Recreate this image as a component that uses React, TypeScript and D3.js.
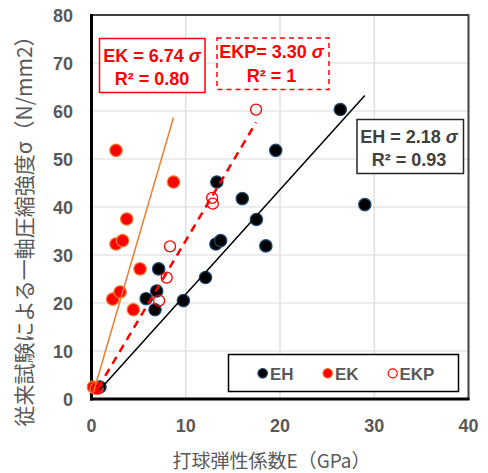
import React from "react";
import * as d3 from "d3";

const ehX = [0.9, 5.8, 6.74, 6.92, 7.13, 9.75, 12.1, 13.2, 13.7, 13.3, 16.0, 17.5, 18.5, 19.55, 26.4, 29.0];
const ehY = [2.5, 20.9, 18.6, 22.5, 27.1, 20.5, 25.3, 32.3, 33.0, 45.2, 41.75, 37.4, 31.9, 51.8, 60.3, 40.5];
const ekX = [0.2, 0.5, 2.25, 2.6, 2.6, 3.03, 3.3, 3.74, 4.44, 5.15, 8.7];
const ekY = [2.5, 2.2, 20.8, 51.8, 32.3, 22.3, 33.0, 37.5, 18.6, 27.1, 45.2];
const ekpX = [0.7, 7.17, 7.98, 8.33, 12.8, 12.87, 17.46];
const ekpY = [2.2, 20.5, 25.3, 31.8, 41.9, 40.7, 60.3];
const slopes = [2.18, 6.74, 3.3];
const xTicks = [0, 10, 20, 30, 40];
const yTicks = [0, 10, 20, 30, 40, 50, 60, 70, 80];
const seriesNames = ["EH", "EK", "EKP"];

const W = 488, H = 473;
const x = d3.scaleLinear().domain([0, 40]).range([91.5, 468.5]);
const y = d3.scaleLinear().domain([0, 80]).range([399, 15]);
const LAT = "'Liberation Sans', Arial, sans-serif";
const CJK = "'Noto Sans CJK JP', 'Liberation Sans', sans-serif";

function trend(xs: number[], k: number) {
  const lo = d3.min(xs) as number, hi = d3.max(xs) as number;
  return d3.line<number>().x(v => x(v)).y(v => y(k * v))([lo, hi]) as string;
}

export default function App() {
  return (
    <svg width={W} height={H} style={{ position: "absolute", left: 0, top: 0, background: "#fff" }}>
      {/* grid */}
      {xTicks.slice(1, -1).map(t => (
        <line key={"gx" + t} x1={x(t)} x2={x(t)} y1={y(0)} y2={y(80)} stroke="#d9d9d9" strokeWidth={1.2} />
      ))}
      {yTicks.slice(1, -1).map(t => (
        <line key={"gy" + t} x1={x(0)} x2={x(40)} y1={y(t)} y2={y(t)} stroke="#d9d9d9" strokeWidth={1.2} />
      ))}
      {/* frame */}
      <rect x={x(0)} y={y(80)} width={x(40) - x(0)} height={y(0) - y(80)} fill="none" stroke="#404040" strokeWidth={2} />
      <line x1={x(0)} x2={x(0)} y1={y(80) - 1} y2={y(0) + 1.5} stroke="#000" strokeWidth={3} />
      <line x1={x(0) - 1.5} x2={x(40) + 1} y1={y(0)} y2={y(0)} stroke="#000" strokeWidth={3} />

      {/* tick labels */}
      {yTicks.map(t => (
        <text key={"yl" + t} x={73} y={y(t) + 6.5} textAnchor="end" fontFamily={LAT} fontWeight="bold" fontSize={18} fill="#595959">{t}</text>
      ))}
      {xTicks.map(t => (
        <text key={"xl" + t} x={x(t)} y={431.5} textAnchor="middle" fontFamily={LAT} fontWeight="bold" fontSize={18} fill="#595959">{t}</text>
      ))}

      {/* axis titles */}
      <text x={271.5} y={468} textAnchor="middle" fontFamily={CJK} fontSize={19} fill="#595959">打球弾性係数E（GPa）</text>
      <text transform={`translate(31.5,226) rotate(-90)`} textAnchor="middle" fontFamily={CJK} fontSize={21} fill="#595959">従来試験による一軸圧縮強度σ（N/mm2）</text>

      {/* points */}
      {ehX.map((v, i) => (
        <circle key={"eh" + i} cx={x(v)} cy={y(ehY[i])} r={6.2} fill="#000" stroke="#1f4e79" strokeWidth={1.2} />
      ))}
      {ekX.map((v, i) => (
        <circle key={"ek" + i} cx={x(v)} cy={y(ekY[i])} r={6.2} fill="#ff0000" stroke="#ed7d31" strokeWidth={1.2} />
      ))}
      {ekpX.map((v, i) => (
        <circle key={"ekp" + i} cx={x(v)} cy={y(ekpY[i])} r={5.5} fill="none" stroke="#ff0000" strokeWidth={1.3} />
      ))}

      {/* trendlines */}
      <path d={trend(ehX, slopes[0])} stroke="#000" strokeWidth={1.5} fill="none" />
      <path d={trend(ekX, slopes[1])} stroke="#ed7d31" strokeWidth={1.5} fill="none" />
      <path d={trend(ekpX, slopes[2])} stroke="#ff0000" strokeWidth={2.5} strokeDasharray="8,6" fill="none" />

      {/* annotation boxes */}
      <rect x={99.5} y={38.5} width={105.5} height={54} fill="#fff" stroke="#ff0000" strokeWidth={1.5} />
      <text x={152} y={61.5} textAnchor="middle" fontFamily={LAT} fontWeight="bold" fontSize={18} fill="#ff0000">
        {seriesNames[1]} = {slopes[1].toFixed(2)}<tspan fontStyle="italic"> σ</tspan>
      </text>
      <text x={152} y={85} textAnchor="middle" fontFamily={LAT} fontWeight="bold" fontSize={18} fill="#ff0000">R² = 0.80</text>

      <rect x={217} y={38} width={112} height={51.5} fill="#fff" stroke="#ff0000" strokeWidth={1.5} strokeDasharray="5,4" />
      <text x={271.5} y={58.3} textAnchor="middle" fontFamily={LAT} fontWeight="bold" fontSize={18} fill="#ff0000">
        {seriesNames[2]}= {slopes[2].toFixed(2)}<tspan fontStyle="italic"> σ</tspan>
      </text>
      <text x={271.5} y={81.7} textAnchor="middle" fontFamily={LAT} fontWeight="bold" fontSize={18} fill="#ff0000">R² = 1</text>

      <rect x={357} y={119.5} width={106.5} height={54} fill="#fff" stroke="#262626" strokeWidth={1.5} />
      <text x={409} y={143} textAnchor="middle" fontFamily={LAT} fontWeight="bold" fontSize={18} fill="#404040">
        {seriesNames[0]} = {slopes[0].toFixed(2)}<tspan fontStyle="italic"> σ</tspan>
      </text>
      <text x={409} y={165.5} textAnchor="middle" fontFamily={LAT} fontWeight="bold" fontSize={18} fill="#404040">R² = 0.93</text>

      {/* legend */}
      <rect x={228.5} y={354.5} width={230} height={37} fill="#fff" stroke="#000" strokeWidth={1.5} />
      <circle cx={262.7} cy={373.3} r={4.8} fill="#000" stroke="#1f4e79" strokeWidth={1.2} />
      <text x={270} y={379.5} fontFamily={LAT} fontWeight="bold" fontSize={17} fill="#595959">{seriesNames[0]}</text>
      <circle cx={327.7} cy={373.3} r={4.8} fill="#ff0000" stroke="#ed7d31" strokeWidth={1.2} />
      <text x={335} y={379.5} fontFamily={LAT} fontWeight="bold" fontSize={17} fill="#595959">{seriesNames[1]}</text>
      <circle cx={392.7} cy={373.3} r={4.5} fill="none" stroke="#ff0000" strokeWidth={1.2} />
      <text x={399.5} y={379.5} fontFamily={LAT} fontWeight="bold" fontSize={17} fill="#595959">{seriesNames[2]}</text>
    </svg>
  );
}
